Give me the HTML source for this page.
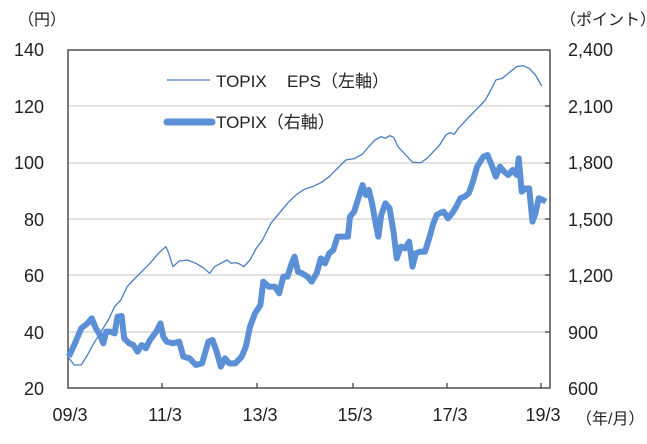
<!DOCTYPE html>
<html><head><meta charset="utf-8"><style>
html,body{margin:0;padding:0;background:#fff;}
text{font-family:"Liberation Sans","Noto Sans CJK JP",sans-serif;fill:#222;}
</style></head><body>
<svg width="647" height="439" viewBox="0 0 647 439" xmlns="http://www.w3.org/2000/svg">
<g stroke="#d0d0d0" stroke-width="1.3">
<line x1="68" y1="106" x2="550" y2="106"/><line x1="68" y1="163" x2="550" y2="163"/>
<line x1="68" y1="219" x2="550" y2="219"/><line x1="68" y1="275" x2="550" y2="275"/>
<line x1="68" y1="332" x2="550" y2="332"/>
</g>
<rect x="68" y="50" width="482" height="338" fill="none" stroke="#333" stroke-width="1.3"/>
<g stroke="#333" stroke-width="1.2">
<line x1="162" y1="383" x2="162" y2="388"/><line x1="257" y1="383" x2="257" y2="388"/>
<line x1="353" y1="383" x2="353" y2="388"/><line x1="447" y1="383" x2="447" y2="388"/>
<line x1="541" y1="383" x2="541" y2="388"/>
<line x1="545" y1="106" x2="550" y2="106"/><line x1="545" y1="163" x2="550" y2="163"/>
<line x1="545" y1="219" x2="550" y2="219"/><line x1="545" y1="275" x2="550" y2="275"/>
<line x1="545" y1="332" x2="550" y2="332"/>
</g>
<g font-size="18" text-anchor="end">
<text x="44" y="56">140</text><text x="44" y="113">120</text><text x="44" y="169">100</text>
<text x="44" y="226">80</text><text x="44" y="282">60</text><text x="44" y="339">40</text><text x="44" y="395">20</text>
</g>
<g font-size="18" text-anchor="start">
<text x="568" y="56">2,400</text><text x="568" y="113">2,100</text><text x="568" y="169">1,800</text>
<text x="568" y="226">1,500</text><text x="568" y="282">1,200</text><text x="568" y="339">900</text><text x="568" y="395">600</text>
</g>
<g font-size="18" text-anchor="middle">
<text x="70" y="421">09/3</text><text x="165" y="421">11/3</text><text x="260" y="421">13/3</text>
<text x="355" y="421">15/3</text><text x="450" y="421">17/3</text><text x="543" y="421">19/3</text>
</g>
<text x="18" y="25" font-size="16">（円）</text>
<text x="560" y="25" font-size="16">（ポイント）</text>
<text x="576" y="424" font-size="16">（年/月）</text>
<line x1="167" y1="80" x2="210" y2="80" stroke="#4a7ebf" stroke-width="1.3"/>
<text x="216" y="87" font-size="17">TOPIX</text>
<text x="287" y="87" font-size="17">EPS（左軸）</text>
<line x1="167" y1="122" x2="212" y2="122" stroke="#5b8fd6" stroke-width="7" stroke-linecap="round"/>
<text x="216" y="128" font-size="17">TOPIX（右軸）</text>
<g transform="scale(0.41667,0.33333)" fill="none" stroke-linejoin="round">
<polyline vector-effect="non-scaling-stroke" stroke="#4a7ebf" stroke-width="1.3" points="163,1070 178,1095 195,1095 210,1065 225,1030 245,990 260,960 275,920 290,900 305,860 320,840 340,815 360,790 380,760 398,740 405,760 415,800 430,783 450,780 470,790 490,805 503,820 515,800 530,790 545,780 555,790 565,788 575,792 585,800 600,780 615,745 630,720 650,670 670,640 690,610 710,585 730,568 750,560 770,548 790,530 810,505 830,480 850,476 870,462 885,440 900,420 915,410 925,415 935,407 945,412 955,440 970,460 990,487 1010,488 1025,475 1040,455 1055,435 1070,405 1080,398 1090,403 1100,385 1115,365 1130,345 1150,320 1165,300 1180,265 1190,240 1205,235 1220,220 1240,200 1255,197 1270,205 1285,225 1300,258"/>
<polyline vector-effect="non-scaling-stroke" stroke="#5b8fd6" stroke-width="6" points="165,1070 180,1030 195,985 210,970 220,955 230,985 240,1005 248,1030 255,995 265,995 275,1000 282,950 292,948 298,1015 310,1030 320,1035 330,1055 340,1035 350,1045 360,1020 375,995 385,970 392,1010 400,1025 415,1030 430,1025 440,1070 455,1075 470,1095 485,1090 500,1025 510,1020 520,1055 530,1100 540,1075 550,1090 565,1090 580,1070 590,1040 600,980 612,940 625,915 632,845 645,860 660,860 670,880 680,830 690,830 700,790 707,770 715,815 725,820 738,830 748,845 760,820 770,775 780,790 790,760 800,750 810,710 820,710 835,710 840,650 850,635 860,595 870,555 878,585 885,570 893,610 900,660 908,710 915,645 925,610 935,625 945,700 952,775 962,740 972,745 982,725 990,800 998,760 1008,755 1020,755 1030,715 1040,670 1048,645 1055,640 1065,635 1075,655 1085,640 1095,620 1105,595 1115,590 1125,580 1135,545 1145,500 1160,470 1170,465 1180,495 1190,530 1200,500 1210,515 1220,525 1230,510 1240,525 1245,475 1252,575 1262,565 1270,565 1278,665 1285,640 1293,595 1303,600 1310,605"/>
</g>
</svg>
</body></html>
